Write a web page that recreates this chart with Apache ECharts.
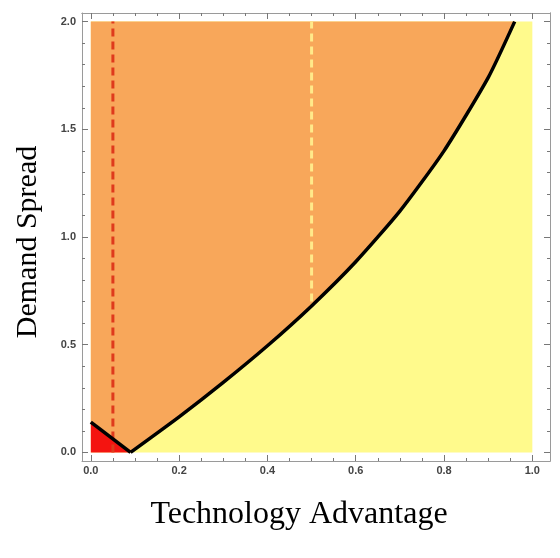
<!DOCTYPE html>
<html>
<head>
<meta charset="utf-8">
<script src="https://cdn.jsdelivr.net/npm/echarts@6/dist/echarts.min.js"></script>
<style>
  html, body { margin: 0; padding: 0; background: #fff; }
  #chart { width: 560px; height: 558px; }
</style>
</head>
<body>
<div id="chart"></div>
<script>
// boundary between the orange and yellow regions
const boundaryX = [0.09, 0.2, 0.3, 0.4, 0.5, 0.6, 0.7, 0.8, 0.9, 0.96]
const boundaryY = [0, 0.165, 0.325, 0.495, 0.68, 0.885, 1.12, 1.40, 1.74, 2.0]
// short edge that cuts off the red corner
const cornerX = [0, 0.09]
const cornerY = [0.14, 0]
// plotted domain
const domainX = [0, 1]
const domainY = [0, 2]
// dashed thresholds
const redDashX = 0.05
const yellowDashX = 0.5
const yellowDashFromY = 0.7
// ticks
const xTicks = [0, 0.2, 0.4, 0.6, 0.8, 1.0]
const xMinorTicks = [0.05, 0.1, 0.15, 0.25, 0.3, 0.35, 0.45, 0.5, 0.55, 0.65, 0.7, 0.75, 0.85, 0.9, 0.95]
const yTicks = [0, 0.5, 1.0, 1.5, 2.0]
const yMinorTicks = [0.1, 0.2, 0.3, 0.4, 0.6, 0.7, 0.8, 0.9, 1.1, 1.2, 1.3, 1.4, 1.6, 1.7, 1.8, 1.9]

const ORANGE = '#f8a75a'
const YELLOW = '#fffa8c'
const RED = '#f41410'
const FRAME = '#9a9a9a'

const curve = boundaryX.map((x, i) => [x, boundaryY[i]])

// polygons in data units
const yellowPoly = [
  [domainX[0], domainY[0]], [domainX[1], domainY[0]],
  [domainX[1], domainY[1]], [domainX[0], domainY[1]],
]
const orangePoly = [
  [cornerX[0], cornerY[0]], [domainX[0], domainY[1]],
].concat(curve.slice().reverse())
const redPoly = [[domainX[0], domainY[0]], [cornerX[0], cornerY[0]], [cornerX[1], cornerY[1]]]

function polygonSeries(points, color, z) {
  return {
    type: 'custom',
    z: z,
    silent: true,
    clip: true,
    data: [0],
    renderItem: function (params, api) {
      return {
        type: 'polygon',
        shape: { points: points.map(p => api.coord(p)), smooth: 0 },
        style: { fill: color },
      }
    },
  }
}

const labelFont = {
  fontFamily: 'Liberation Sans', fontSize: 11, fontWeight: 'bold', color: '#444',
}

function xAxisDef(position, values, len, labels) {
  return {
    type: 'value', min: -0.02, max: 1.04, position: position,
    axisLine: { show: labels !== null || position === 'top', onZero: false, lineStyle: { color: FRAME, width: 1 } },
    axisTick: { show: true, inside: true, length: len, customValues: values, lineStyle: { color: '#777' } },
    axisLabel: labels ? Object.assign({ customValues: labels, margin: 4, formatter: v => v.toFixed(1) }, labelFont) : { show: false },
    splitLine: { show: false },
  }
}

function yAxisDef(position, values, len, labels) {
  return {
    type: 'value', min: -0.04, max: 2.04, position: position,
    axisLine: { show: labels !== null || position === 'right', onZero: false, lineStyle: { color: FRAME, width: 1 } },
    axisTick: { show: true, inside: true, length: len, customValues: values, lineStyle: { color: '#777' } },
    axisLabel: labels ? Object.assign({ customValues: labels, margin: 6, formatter: v => v.toFixed(1) }, labelFont) : { show: false },
    splitLine: { show: false },
  }
}

const chart = echarts.init(document.getElementById('chart'), null, { renderer: 'canvas' })

chart.setOption({
  animation: false,
  backgroundColor: '#fff',
  grid: { left: 82, top: 13, width: 468, height: 448, containLabel: false },
  xAxis: [
    xAxisDef('bottom', xTicks, 6, xTicks),
    xAxisDef('bottom', xMinorTicks, 3, null),
    xAxisDef('top', xTicks, 6, null),
    xAxisDef('top', xMinorTicks, 3, null),
  ],
  yAxis: [
    yAxisDef('left', yTicks, 6, yTicks),
    yAxisDef('left', yMinorTicks, 3, null),
    yAxisDef('right', yTicks, 6, null),
    yAxisDef('right', yMinorTicks, 3, null),
  ],
  graphic: [
    {
      type: 'text', x: 28, y: 242, rotation: Math.PI / 2,
      style: {
        text: 'Demand Spread', fill: '#000', font: '30px "Liberation Serif"',
        textAlign: 'center', textVerticalAlign: 'middle',
      },
    },
    {
      type: 'text', x: 299, y: 515,
      style: {
        text: 'Technology Advantage', fill: '#000', font: '32px "Liberation Serif"',
        textAlign: 'center', textVerticalAlign: 'middle',
      },
    },
  ],
  series: [
    polygonSeries(yellowPoly, YELLOW, 1),
    polygonSeries(orangePoly, ORANGE, 2),
    polygonSeries(redPoly, RED, 3),
    {
      type: 'line', z: 4, silent: true, symbol: 'none',
      data: [[redDashX, domainY[0]], [redDashX, domainY[1]]],
      lineStyle: { color: '#df3a1c', width: 3, type: [8, 5] },
    },
    {
      type: 'line', z: 4, silent: true, symbol: 'none',
      data: [[yellowDashX, yellowDashFromY], [yellowDashX, domainY[1]]],
      lineStyle: { color: '#ffe98a', width: 3, type: [8, 5] },
    },
    {
      type: 'line', z: 5, silent: true, symbol: 'none', smooth: 0.2,
      data: curve,
      lineStyle: { color: '#000', width: 3.5 },
    },
    {
      type: 'line', z: 5, silent: true, symbol: 'none',
      data: cornerX.map((x, i) => [x, cornerY[i]]),
      lineStyle: { color: '#000', width: 3.5 },
    },
  ],
})
</script>
</body>
</html>
